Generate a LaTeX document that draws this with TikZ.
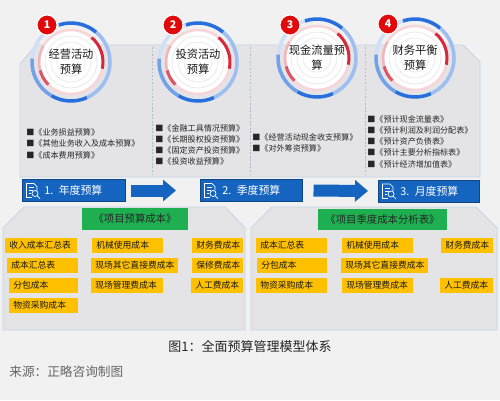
\documentclass[tikz,border=0pt]{standalone}
\usepackage{fontspec}
\setmainfont{Noto Sans CJK SC}
\usetikzlibrary{arrows.meta}

\tikzset{
    budgetlist/.style={anchor=north west, align=left, inner sep=0pt, text=black!85, font=\fontsize{4.6}{6.4}\selectfont},
    stagebox/.style={fill=stageblue, draw=stageblue!70!black, line width=0.3pt, text=white, minimum height=0.42cm, text width=#1, align=left, inner xsep=0.06cm, anchor=west, font=\fontsize{6.2}{7}\selectfont},
    costbox/.style={fill=costyellow, minimum height=0.3cm, text width=#1, inner xsep=0.08cm, inner ysep=0pt, align=left, anchor=west, text=black!90, font=\fontsize{5}{6}\selectfont},
    titlebox/.style={fill=titlegreen, minimum height=0.36cm, minimum width=#1, text=black!85, font=\fontsize{5.9}{7}\selectfont},
    badge/.style={circle, fill=badgered, draw=white, line width=0.6pt, minimum size=0.4cm, inner sep=0pt, text=white, font=\bfseries\fontsize{6}{7}\selectfont},
    ringtitle/.style={align=center, text=black!90, font=\fontsize{6.4}{8.5}\selectfont},
    flowarrow/.style={stageblue, line width=0.24cm, -{Triangle[length=0.26cm,width=0.42cm]}},
}

% small white "document + magnifier" mark on the stage boxes
\newcommand{\docicon}[1]{%
    \begin{scope}[shift={(#1)}, white, line width=0.4pt]
        \draw (4,-7) -- (12,-7) -- (15,-4) -- (15,0);
        \draw (4,-7) -- (4,7) -- (10,7);
        \draw (7,-3) -- (12,-3) (7,0) -- (11,0) (7,3) -- (9,3);
        \draw (13,3) circle[radius=0.06cm];
        \draw (15,5) -- (18,8);
    \end{scope}
}

\begin{document}
\begin{tikzpicture}[x=0.02cm, y=-0.02cm]
    % Colours
    \definecolor{pagebg}{RGB}{241, 241, 241}
    \definecolor{panelfill}{RGB}{228, 228, 230}
    \definecolor{panelline}{RGB}{196, 211, 232}
    \definecolor{stageblue}{RGB}{21, 101, 192}
    \definecolor{titlegreen}{RGB}{30, 176, 80}
    \definecolor{costyellow}{RGB}{255, 192, 0}
    \definecolor{badgered}{RGB}{225, 10, 10}
    \definecolor{ringblue}{RGB}{40, 110, 220}
    \definecolor{ringred}{RGB}{215, 40, 60}

    \fill[pagebg] (0,0) rectangle (500,400);
    \useasboundingbox (0,0) rectangle (500,400);

    % Upper panel with cut corners
    \draw[panelline, fill=panelfill, line width=0.5pt]
        (20,64) -- (36,45) -- (463,45) -- (480,62) -- (480,177) -- (20,177) -- cycle;
    \foreach \x in {152,250,365}
        \draw[panelline!70!gray, dash pattern=on 1pt off 1pt] (\x,47) -- (\x,176);

    % Lower panels
    \draw[panelline, fill=panelfill, line width=0.5pt]
        (3,228) -- (24,207) -- (225,207) -- (245,228) -- (245,330) -- (3,330) -- cycle;
    \draw[panelline, fill=panelfill, line width=0.5pt]
        (251,228) -- (272,207) -- (476,207) -- (497,228) -- (497,330) -- (251,330) -- cycle;

    % Ring centres
    \coordinate (c1) at (71,62);
    \coordinate (c2) at (198,62);
    \coordinate (c3) at (317,58);
    \coordinate (c4) at (415,58);

    \foreach \c in {c1,c2,c3,c4} {
        \fill[white] (\c) circle[radius=0.66cm];
        \foreach \r in {0.52,0.4,0.28}
            \draw[gray!18, line width=0.4pt] (\c) circle[radius=\r cm];
        \draw[ringred!20, line width=0.05cm] (\c) circle[radius=0.64cm];
        \draw[ringred, line width=0.06cm] (\c) ++(50:0.64cm) arc[start angle=50, end angle=-12, radius=0.64cm];
        \draw[ringred!80, line width=0.06cm] (\c) ++(195:0.64cm) arc[start angle=195, end angle=225, radius=0.64cm];
        \draw[ringred!35, line width=0.05cm] (\c) ++(150:0.64cm) arc[start angle=150, end angle=195, radius=0.64cm];
        \draw[ringblue!22, line width=0.07cm] (\c) circle[radius=0.78cm];
        \draw[ringblue!45, line width=0.07cm] (\c) ++(50:0.78cm) arc[start angle=50, end angle=-66, radius=0.78cm];
        \draw[ringblue, line width=0.07cm] (\c) ++(108:0.78cm) arc[start angle=108, end angle=50, radius=0.78cm];
        \draw[ringblue, line width=0.07cm] (\c) ++(-66:0.78cm) arc[start angle=-66, end angle=-120, radius=0.78cm];
        \draw[ringblue!65, line width=0.07cm] (\c) ++(240:0.78cm) arc[start angle=240, end angle=175, radius=0.78cm];
    }

    % Ring titles and number badges
    \node[ringtitle] (operating) at (c1) {经营活动\\预算};
    \node[ringtitle] (investing) at (c2) {投资活动\\预算};
    \node[ringtitle] (cashflow) at (c3) {现金流量预\\算};
    \node[ringtitle] (balance) at (c4) {财务平衡\\预算};

    \node[badge] (n1) at (47,25) {1};
    \node[badge] (n2) at (173,25) {2};
    \node[badge] (n3) at (290,25) {3};
    \node[badge] (n4) at (388,24) {4};

    % Budget lists under each ring
    \node[budgetlist] (oplist) at (26,128.5) {■《业务损益预算》\\■《其他业务收入及成本预算》\\■《成本费用预算》};
    \node[budgetlist] (invlist) at (155,124) {■《金融工具情况预算》\\■《长期股权投资预算》\\■《固定资产投资预算》\\■《投资收益预算》};
    \node[budgetlist] (cashlist) at (252,133.5) {■《经营活动现金收支预算》\\■《对外筹资预算》};
    \node[budgetlist] (ballist) at (367,115) {■《预计现金流量表》\\■《预计利润及利润分配表》\\■《预计资产负债表》\\■《预计主要分析指标表》\\■《预计经济增加值表》};

    % Stage boxes and arrows
    \node[stagebox=1.94cm] (annual) at (22,190.5) {\hspace*{0.38cm}1. 年度预算};
    \node[stagebox=1.92cm] (quarter) at (200,190.5) {\hspace*{0.38cm}2. 季度预算};
    \node[stagebox=1.90cm] (monthly) at (378,191) {\hspace*{0.38cm}3. 月度预算};
    \docicon{annual.west}
    \docicon{quarter.west}
    \docicon{monthly.west}

    \draw[flowarrow, shorten <=0.1cm, shorten >=0.48cm] (annual.east) -- (quarter.west);
    \draw[flowarrow, shorten <=0.22cm, shorten >=0.2cm] (quarter.east) -- (monthly.west);

    % Lower panel titles
    \node[titlebox=2.12cm] (projcost) at (135,219) {《项目预算成本》};
    \node[titlebox=2.58cm] (quartcost) at (382.5,219.5) {《项目季度成本分析表》};

    % Cost items, left panel
    \node[costbox=1.28cm] (l11) at (5,245) {收入成本汇总表};
    \node[costbox=1.26cm] (l12) at (92,245) {机械使用成本};
    \node[costbox=0.86cm] (l13) at (192,245) {财务费成本};
    \node[costbox=1.26cm] (l21) at (7,265.5) {成本汇总表};
    \node[costbox=1.58cm] (l22) at (91,265.5) {现场其它直接费成本};
    \node[costbox=0.86cm] (l23) at (192,265.5) {保修费成本};
    \node[costbox=1.22cm] (l31) at (9,285.5) {分包成本};
    \node[costbox=1.28cm] (l32) at (91,285.5) {现场管理费成本};
    \node[costbox=0.88cm] (l33) at (191,285.5) {人工费成本};
    \node[costbox=1.22cm] (l41) at (9,305.5) {物资采购成本};

    % Cost items, right panel
    \node[costbox=1.26cm] (r11) at (256,245) {成本汇总表};
    \node[costbox=1.26cm] (r12) at (342,245) {机械使用成本};
    \node[costbox=0.88cm] (r13) at (441,245) {财务费成本};
    \node[costbox=1.24cm] (r21) at (257,265.5) {分包成本};
    \node[costbox=1.58cm] (r22) at (341,265.5) {现场其它直接费成本};
    \node[costbox=1.26cm] (r31) at (256,285.5) {物资采购成本};
    \node[costbox=1.26cm] (r32) at (342,285.5) {现场管理费成本};
    \node[costbox=0.90cm] (r33) at (440,285.5) {人工费成本};

    % Caption and source
    \node[text=black!85, font=\fontsize{7.4}{9}\selectfont] (caption) at (250,346) {图1：全面预算管理模型体系};
    \node[anchor=west, inner sep=0pt, text=black!60, font=\fontsize{7.2}{9}\selectfont] (source) at (9,372) {来源：正略咨询制图};
\end{tikzpicture}
\end{document}
